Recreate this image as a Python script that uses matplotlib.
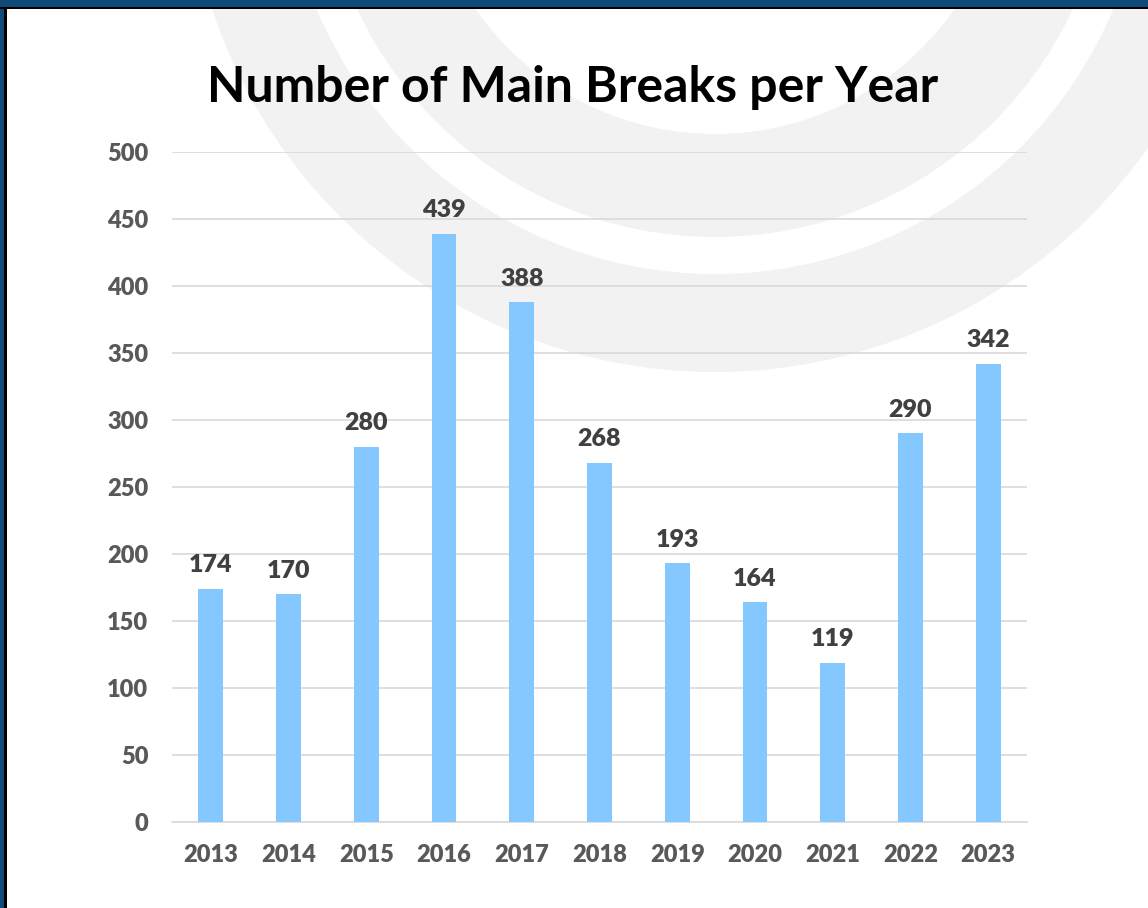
import matplotlib.pyplot as plt
from matplotlib.patches import Wedge, Rectangle
from matplotlib.transforms import Affine2D

years = ['2013', '2014', '2015', '2016', '2017', '2018', '2019', '2020', '2021', '2022', '2023']
breaks = [174, 170, 280, 439, 388, 268, 193, 164, 119, 290, 342]
yticks = [0, 50, 100, 150, 200, 250, 300, 350, 400, 450, 500]

plt.rcParams['font.family'] = ['Lato', 'DejaVu Sans']

W, H = 1148, 908
fig = plt.figure(figsize=(W / 100, H / 100), dpi=100)
fig.patch.set_facecolor('white')

# 像素坐标（原点在左下角）
pix = Affine2D().scale(1.0 / W, 1.0 / H) + fig.transFigure

# 背景水印（浅灰圆环）
ring_color = '#f2f2f2'
for r_out, r_in in [(530, 432), (395, 292)]:
    fig.patches.append(Wedge((715, H + 158), r_out, 180, 360, width=r_out - r_in,
                             facecolor=ring_color, edgecolor='none',
                             transform=pix, zorder=0))

# 边框：蓝色条 + 黑线
fig.patches.append(Rectangle((0, H - 7), W, 7, facecolor='#0f4a78', edgecolor='none', transform=pix, zorder=1))
fig.patches.append(Rectangle((0, 0), 5, H, facecolor='#0f4a78', edgecolor='none', transform=pix, zorder=1))
fig.patches.append(Rectangle((0, H - 9), W, 2.5, facecolor='black', edgecolor='none', transform=pix, zorder=2))
fig.patches.append(Rectangle((4, 0), 2.5, H - 7, facecolor='black', edgecolor='none', transform=pix, zorder=2))

ax = fig.add_axes([172 / W, 86 / H, 855 / W, 670 / H])
ax.set_facecolor('none')
ax.set_zorder(5)

x = range(len(years))
bars = ax.bar(x, breaks, width=0.32, color='#85c8ff', zorder=3)

for rect, v in zip(bars, breaks):
    ax.annotate(str(v), (rect.get_x() + rect.get_width() / 2, v),
                xytext=(0, 9), textcoords='offset points',
                ha='center', va='bottom', fontsize=18, fontweight='heavy', color='#404040')

ax.set_xlim(-0.5, len(years) - 0.5)
ax.set_ylim(0, 500)
ax.set_yticks(yticks)
ax.set_xticks(list(x))
ax.set_xticklabels(years)
ax.yaxis.grid(True, color='#d9d9d9', linewidth=1.2, zorder=0)
ax.set_axisbelow(True)
for s in ['top', 'right', 'left']:
    ax.spines[s].set_visible(False)
ax.spines['bottom'].set_color('#d9d9d9')
ax.spines['bottom'].set_linewidth(1.2)
ax.tick_params(axis='both', length=0, labelsize=17, labelcolor='#595959')
ax.tick_params(axis='y', pad=17)
ax.tick_params(axis='x', pad=16)
for lab in ax.get_xticklabels() + ax.get_yticklabels():
    lab.set_fontweight('heavy')

fig.text(573 / W, 1 - 88 / H, 'Number of Main Breaks per Year', ha='center', va='center',
         fontsize=36, fontweight='bold', color='black', zorder=6)

fig.savefig('out.png', dpi=100)
